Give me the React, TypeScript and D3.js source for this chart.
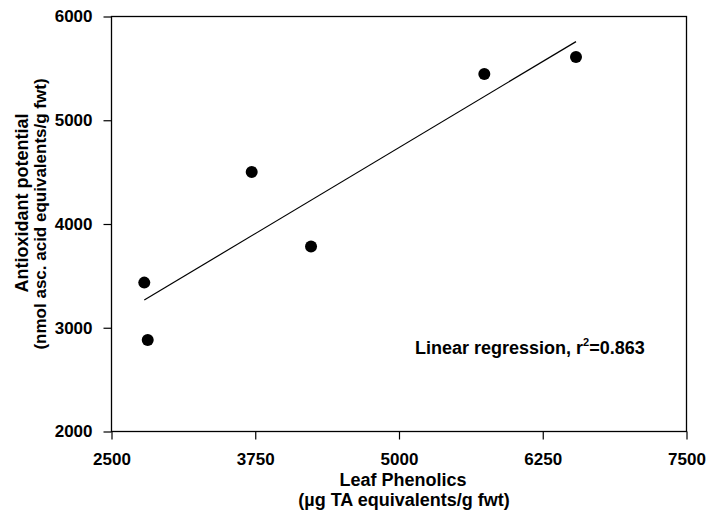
import { useRef, useEffect } from 'react';
import * as d3 from 'd3';

const phenolics = [2785, 2815, 3719, 4235, 5742, 6539];
const antioxidant = [3435, 2883, 4502, 3782, 5446, 5610];
const xTicks = [2500, 3750, 5000, 6250, 7500];
const yTicks = [2000, 3000, 4000, 5000, 6000];
const r2Label = '0.863';

export default function App() {
  const svgRef = useRef<SVGSVGElement>(null);

  useEffect(() => {
    const svg = d3.select(svgRef.current);
    svg.selectAll('*').remove();

    const width = 708;
    const height = 512;
    const margin = { top: 16.5, right: 21.5, bottom: 80.5, left: 111.5 };
    const font = 'Liberation Sans, Arial, sans-serif';

    const x = d3.scaleLinear().domain([2500, 7500]).range([margin.left, width - margin.right]);
    const y = d3.scaleLinear().domain([2000, 6000]).range([height - margin.bottom, margin.top]);

    const data = phenolics.map((p, i) => ({ p, a: antioxidant[i] }));

    // least squares fit
    const mx = d3.mean(phenolics)!;
    const my = d3.mean(antioxidant)!;
    const sxy = d3.sum(data, d => (d.p - mx) * (d.a - my));
    const sxx = d3.sum(data, d => (d.p - mx) ** 2);
    const slope = sxy / sxx;
    const icpt = my - slope * mx;
    const [x0, x1] = d3.extent(phenolics) as [number, number];

    // frame
    svg.append('rect')
      .attr('x', x(2500)).attr('y', y(6000))
      .attr('width', x(7500) - x(2500)).attr('height', y(2000) - y(6000))
      .attr('fill', 'none').attr('stroke', '#000').attr('stroke-width', 1.3);

    const xAxis = svg.append('g')
      .attr('transform', `translate(0,${y(2000)})`)
      .call(d3.axisBottom(x).tickValues(xTicks).tickSize(8).tickPadding(13).tickFormat(d3.format('d')));
    const yAxis = svg.append('g')
      .attr('transform', `translate(${x(2500)},0)`)
      .call(d3.axisLeft(y).tickValues(yTicks).tickSize(8).tickPadding(11).tickFormat(d3.format('d')));

    [xAxis, yAxis].forEach(g => {
      g.select('.domain').remove();
      g.selectAll('line').attr('stroke', '#000').attr('stroke-width', 1.2);
      g.selectAll('text')
        .attr('font-family', font).attr('font-size', 17).attr('font-weight', 'bold').attr('fill', '#000');
    });

    const line = d3.line<number>().x(d => x(d)).y(d => y(icpt + slope * d));
    svg.append('path')
      .attr('d', line([x0, x1]))
      .attr('fill', 'none').attr('stroke', '#000').attr('stroke-width', 1.2);

    svg.selectAll('.pt')
      .data(data)
      .join('circle')
      .attr('class', 'pt')
      .attr('cx', d => x(d.p)).attr('cy', d => y(d.a))
      .attr('r', 6).attr('fill', '#000');

    svg.append('text')
      .attr('x', 415).attr('y', 354)
      .attr('font-family', font).attr('font-size', 18).attr('font-weight', 'bold')
      .call(t => {
        t.append('tspan').text('Linear regression, r');
        t.append('tspan').attr('font-size', 11).attr('dy', -8).text('2');
        t.append('tspan').attr('dy', 8).text(`=${r2Label}`);
      });

    svg.append('text')
      .attr('x', 403).attr('y', 486).attr('text-anchor', 'middle')
      .attr('font-family', font).attr('font-size', 18).attr('font-weight', 'bold')
      .text('Leaf Phenolics');
    svg.append('text')
      .attr('x', 404).attr('y', 506).attr('text-anchor', 'middle')
      .attr('font-family', font).attr('font-size', 18).attr('font-weight', 'bold')
      .text('(\u00b5g TA equivalents/g fwt)');

    svg.append('text')
      .attr('transform', 'translate(28,203) rotate(-90)').attr('text-anchor', 'middle')
      .attr('font-family', font).attr('font-size', 18).attr('font-weight', 'bold')
      .text('Antioxidant potential');
    svg.append('text')
      .attr('transform', 'translate(46,214) rotate(-90)').attr('text-anchor', 'middle')
      .attr('font-family', font).attr('font-size', 17).attr('font-weight', 'bold')
      .text('(nmol asc. acid equivalents/g fwt)');
  }, []);

  return (
    <svg ref={svgRef} width={708} height={512}
      style={{ position: 'absolute', left: 0, top: 0, background: '#fff' }} />
  );
}
